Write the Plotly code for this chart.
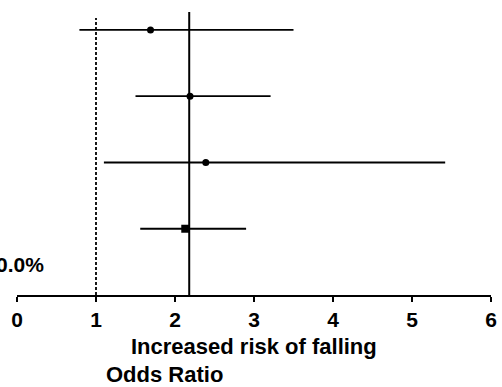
import plotly.graph_objects as go

# Data
rows = [4, 3, 2, 1]
odds_ratio = [1.69, 2.19, 2.39, 2.13]
ci_low = [0.79, 1.50, 1.10, 1.56]
ci_high = [3.50, 3.21, 5.42, 2.90]
markers = ["circle", "circle", "circle", "square"]
pooled_or = 2.18
null_or = 1.0
x_ticks = [0, 1, 2, 3, 4, 5, 6]

fig = go.Figure()

for y, o, lo, hi, m in zip(rows, odds_ratio, ci_low, ci_high, markers):
    fig.add_trace(go.Scatter(x=[lo, hi], y=[y, y], mode="lines",
                             line=dict(color="black", width=1.8),
                             showlegend=False, hoverinfo="skip"))
    fig.add_trace(go.Scatter(x=[o], y=[y], mode="markers",
                             marker=dict(color="black", size=7 if m == "circle" else 8, symbol=m),
                             showlegend=False))

# pooled estimate (solid) and null (dashed) lines
fig.add_trace(go.Scatter(x=[pooled_or, pooled_or], y=[0, 4.27], mode="lines",
                         line=dict(color="black", width=2), showlegend=False))
fig.add_trace(go.Scatter(x=[null_or, null_or], y=[0, 4.18], mode="lines",
                         line=dict(color="black", width=1.8, dash="3px,2px"), showlegend=False))

fig.update_layout(
    width=502, height=387,
    margin=dict(l=17, r=11, t=0, b=92),
    plot_bgcolor="white", paper_bgcolor="white",
    font=dict(family="Liberation Sans, Arial, sans-serif", color="black", weight="bold"),
    xaxis=dict(range=[0, 6], tickvals=x_ticks, ticks="outside", ticklen=5,
               tickwidth=1.8, tickcolor="black", showline=True, linecolor="black",
               linewidth=1.8, showgrid=False, zeroline=False, automargin=False,
               tickfont=dict(size=21, weight="bold")),
    yaxis=dict(range=[0, 4.452], visible=False, showgrid=False, zeroline=False,
               automargin=False),
    annotations=[
        dict(text="Increased risk of falling", x=3.0, xref="x", y=-0.176, yref="paper",
             showarrow=False, xanchor="center", yanchor="middle", font=dict(size=22, weight="bold")),
        dict(text="Odds Ratio", x=1.1, xref="x", y=-0.268, yref="paper",
             showarrow=False, xanchor="left", yanchor="middle", font=dict(size=22, weight="bold")),
        dict(text="0.0%", x=0.37, xref="x", y=0.46, yref="y",
             showarrow=False, xanchor="right", yanchor="middle", font=dict(size=21, weight="bold")),
    ],
)

fig.write_html("out.html", config={"displayModeBar": False},
               post_script="document.body.style.margin='0';document.body.style.padding='0';")
